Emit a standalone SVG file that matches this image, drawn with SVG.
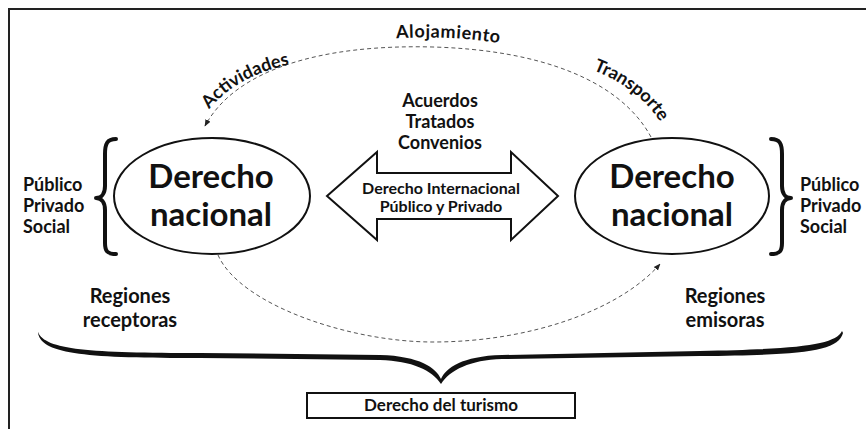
<svg xmlns="http://www.w3.org/2000/svg" width="866" height="429" viewBox="0 0 866 429">
<defs>
<style>
text{font-family:Lato,"Liberation Sans",sans-serif;font-weight:bold;fill:#111}
.lbl{font-size:18px}
.big{font-size:33px;text-anchor:middle}
.mid{text-anchor:middle}
.shape{fill:#fff;stroke:#111;stroke-width:2}
.dash{fill:none;stroke:#555;stroke-width:1;stroke-dasharray:4 3}
.brace{fill:none;stroke:#111;stroke-width:4;stroke-linecap:round;stroke-linejoin:round}
</style>
<marker id="ah" viewBox="0 0 10 10" refX="9" refY="5" markerWidth="7" markerHeight="7" orient="auto" markerUnits="userSpaceOnUse">
<path d="M0,1 L10,5 L0,9 Z" fill="#222"/>
</marker>
<path id="pAlo" d="M386,39 Q450,34 510,45"/>
<path id="pAct" d="M204,116 Q234,74 298,63"/>
<path id="pTra" d="M582,66 Q642,86 666,132"/>
</defs>
<rect width="866" height="429" fill="#fff"/>
<path d="M9,429 V9 H866" fill="none" stroke="#222" stroke-width="2"/>

<g id="connectors">
<path class="dash" d="M651,137 C620,80 540,50 433,47 C320,44 235,70 205,126" marker-end="url(#ah)"/>
<path class="dash" d="M218,255 C240,305 350,342 433,342 C530,342 620,310 660,264" marker-end="url(#ah)"/>
</g>

<g id="label-alojamiento"><text class="lbl" letter-spacing="0.6"><textPath href="#pAlo" startOffset="50%" text-anchor="middle">Alojamiento</textPath></text></g>
<g id="label-actividades"><text class="lbl"><textPath href="#pAct" startOffset="50%" text-anchor="middle">Actividades</textPath></text></g>
<g id="label-transporte"><text class="lbl"><textPath href="#pTra" startOffset="50%" text-anchor="middle">Transporte</textPath></text></g>

<g id="node-left">
<ellipse class="shape" cx="212" cy="196" rx="98" ry="58"/>
<text class="big" x="211" y="188">Derecho</text>
<text class="big" x="211" y="226">nacional</text>
</g>
<g id="node-right">
<ellipse class="shape" cx="672" cy="196" rx="97" ry="58"/>
<text class="big" x="672" y="188">Derecho</text>
<text class="big" x="672" y="226">nacional</text>
</g>

<g id="brace-left">
<path class="brace" d="M116,139 C107,139 105,144 105,154 L105,186 C105,194 101,198 96,198 C101,198 105,202 105,210 L105,243 C105,251 107,254 116,254"/>
<text class="lbl" x="23" y="191">Público</text>
<text class="lbl" x="23" y="212">Privado</text>
<text class="lbl" x="23" y="233">Social</text>
</g>
<g id="brace-right">
<path class="brace" d="M116,139 C107,139 105,144 105,154 L105,186 C105,194 101,198 96,198 C101,198 105,202 105,210 L105,243 C105,251 107,254 116,254" transform="translate(887,0) scale(-1,1)"/>
<text class="lbl" x="800" y="191">Público</text>
<text class="lbl" x="800" y="212">Privado</text>
<text class="lbl" x="800" y="233">Social</text>
</g>

<g id="node-arrow">
<polygon class="shape" points="327,196 377,152 377,173 511,173 511,152 558,196 511,240 511,219 377,219 377,240"/>
<text class="mid" x="441" y="194" font-size="16">Derecho Internacional</text>
<text class="mid" x="441" y="212" font-size="16">Público y Privado</text>
</g>
<g id="node-acuerdos">
<text class="mid lbl" x="440" y="107">Acuerdos</text>
<text class="mid lbl" x="440" y="128">Tratados</text>
<text class="mid lbl" x="440" y="149">Convenios</text>
</g>

<g id="node-receptoras">
<text class="mid" x="130" y="303" font-size="20">Regiones</text>
<text class="mid" x="130" y="327" font-size="20">receptoras</text>
</g>
<g id="node-emisoras">
<text class="mid" x="725" y="303" font-size="20">Regiones</text>
<text class="mid" x="725" y="327" font-size="20">emisoras</text>
</g>

<g id="brace-bottom">
<path fill="#111" d="M38,332 C45,350 90,353 200,353 L380,355 C420,356 436,368 441,379 C446,368 462,356 502,355 L700,351 C800,349 835,345 842,331 L843,333 C838,352 800,355 700,356 L502,359 C470,360 450,370 441,384 C432,370 412,361 380,360 L200,358 C90,358 42,355 38,333 Z"/>
</g>

<g id="node-turismo">
<rect class="shape" x="307" y="393" width="268" height="25"/>
<text class="mid" x="441" y="411" font-size="17">Derecho del turismo</text>
</g>
</svg>
